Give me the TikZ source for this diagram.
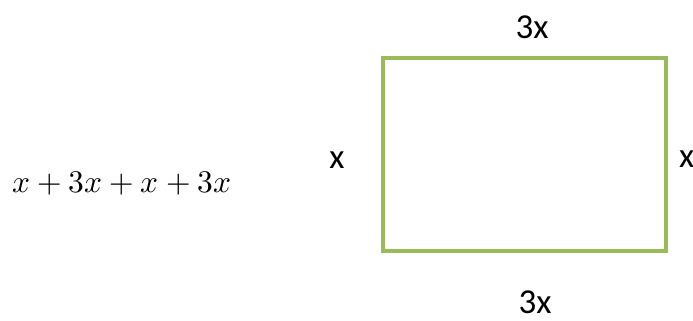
\documentclass[tikz,border=0pt]{standalone}
\usepackage{fontspec}
\usepackage{unicode-math}
\setmathfont{Latin Modern Math}
\setsansfont{Carlito}
\definecolor{rectgreen}{HTML}{9BBB59}
\tikzset{
  lbl/.style={font=\sffamily\fontsize{35}{40}\selectfont, inner sep=0pt, anchor=base},
  rectbox/.style={draw=rectgreen, line width=4pt}
}
\begin{document}
\begin{tikzpicture}[x=1pt,y=-1pt]
\useasboundingbox (0,0) rectangle (693,321);
\draw[rectbox] (383,58) rectangle (666,251);
\node[lbl] (top) at (532,38) {3x};
\node[lbl] (bot) at (535,313) {3x};
\node[lbl] (left) at (337,168) {x};
\node[lbl, anchor=base west] (right) at (679,167) {x};
\node[inner sep=0pt, anchor=base west, font=\fontsize{31.5}{36}\selectfont] (formula) at (12,192) {$x+3x+x+3x$};
\end{tikzpicture}
\end{document}
